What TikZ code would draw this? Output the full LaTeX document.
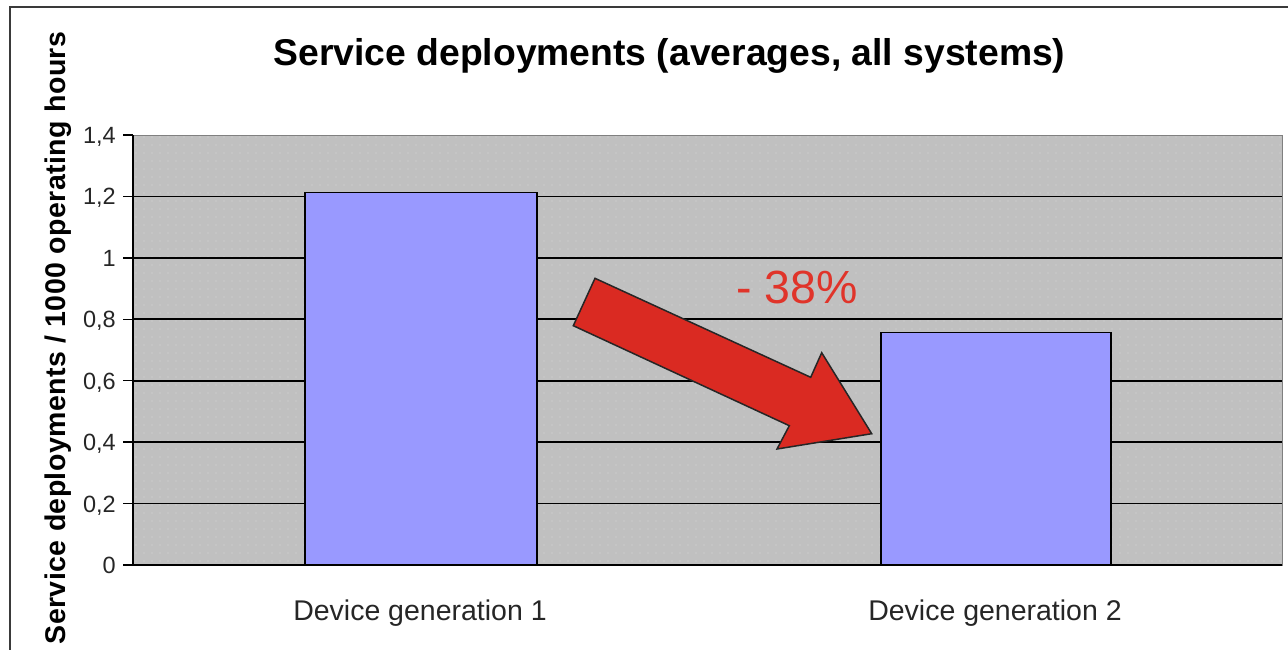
\documentclass[tikz,border=0pt]{standalone}
\usepackage{fontspec}
\setmainfont{Liberation Sans}
\usetikzlibrary{patterns.meta}
\definecolor{plotgray}{HTML}{C0C0C0}
\definecolor{dotgray}{HTML}{CBCBCB}
\definecolor{barblue}{HTML}{9999FF}
\definecolor{arrowred}{HTML}{DA2A22}
\definecolor{textred}{HTML}{E0342A}
\definecolor{framegray}{HTML}{3A3A3A}
\definecolor{plotedge}{HTML}{808080}
\tikzset{
  grid line/.style={black, line width=1.8pt},
  tick line/.style={black, line width=1.5pt},
  bar/.style={draw=black, fill=barblue, line width=1.5pt, inner sep=0pt, anchor=south west},
  tick label/.style={anchor=base east, inner sep=0pt, font=\fontsize{23.5}{26}\selectfont, text=black!85},
  cat label/.style={anchor=base, inner sep=0pt, font=\fontsize{28.5}{30}\selectfont, text=black!85},
  bigarrow/.style={draw=black!85, fill=arrowred, line width=1.5pt, line join=miter},
}
\begin{document}
\begin{tikzpicture}[x=1pt,y=-1pt]
\useasboundingbox (0,0) rectangle (1288,649);
\clip (0,0) rectangle (1288,649);
% outer frame
\draw[framegray, line width=2pt] (9.5,6.5) rectangle (1310,680);
% plot area
\fill[plotgray] (133,135) rectangle (1282,565);
\fill[pattern={Dots[distance=8pt,radius=0.9pt]}, pattern color=dotgray] (133,135) rectangle (1282,565);
\draw[plotedge, line width=1pt] (133,135) rectangle (1282,565);
% grid lines and ticks
\foreach \v/\lab in {0/0,0.2/{0,2},0.4/{0,4},0.6/{0,6},0.8/{0,8},1/1,1.2/{1,2},1.4/{1,4}}{
  \pgfmathsetmacro{\yy}{565-\v*307.14}
  \ifdim\v pt>0pt \ifdim\v pt<1.3pt \draw[grid line] (133,\yy) -- (1282,\yy); \fi\fi
  \draw[tick line] (123,\yy) -- (133,\yy);
  \node[tick label] at (116,\yy+8.5) {\lab};
}
% axes
\draw[black, line width=1.8pt] (133,135) -- (133,565) -- (1282,565);
% bars
\node[bar, minimum width=232pt, minimum height=371.6pt] (bar1) at (304,565) {};
\node[bar, minimum width=230pt, minimum height=232pt] (bar2) at (880,565) {};
% arrow
\draw[bigarrow] (595,278.3) -- (810.7,377.3) -- (821.7,352.7) -- (871.7,433.7)
   -- (777,449) -- (789.3,425.7) -- (573.3,325.7) -- cycle;
\node[anchor=base, inner sep=0pt, text=textred, font=\fontsize{46.5}{48}\selectfont] (pct) at (797,303.3) {- 38\%};
% labels
\node[cat label] (lab1) at (420,620) {Device generation 1};
\node[cat label] (lab2) at (995,620) {Device generation 2};
\node[anchor=base, inner sep=0pt, font=\fontsize{37.3}{40}\selectfont\bfseries] (title) at (669.5,65.7) {Service deployments (averages, all systems)};
\node[anchor=base, inner sep=0pt, rotate=90, font=\fontsize{28.5}{30}\selectfont\bfseries\addfontfeature{LetterSpace=1.5}] (ylab) at (65,338) {Service deployments / 1000 operating hours};
\end{tikzpicture}
\end{document}
